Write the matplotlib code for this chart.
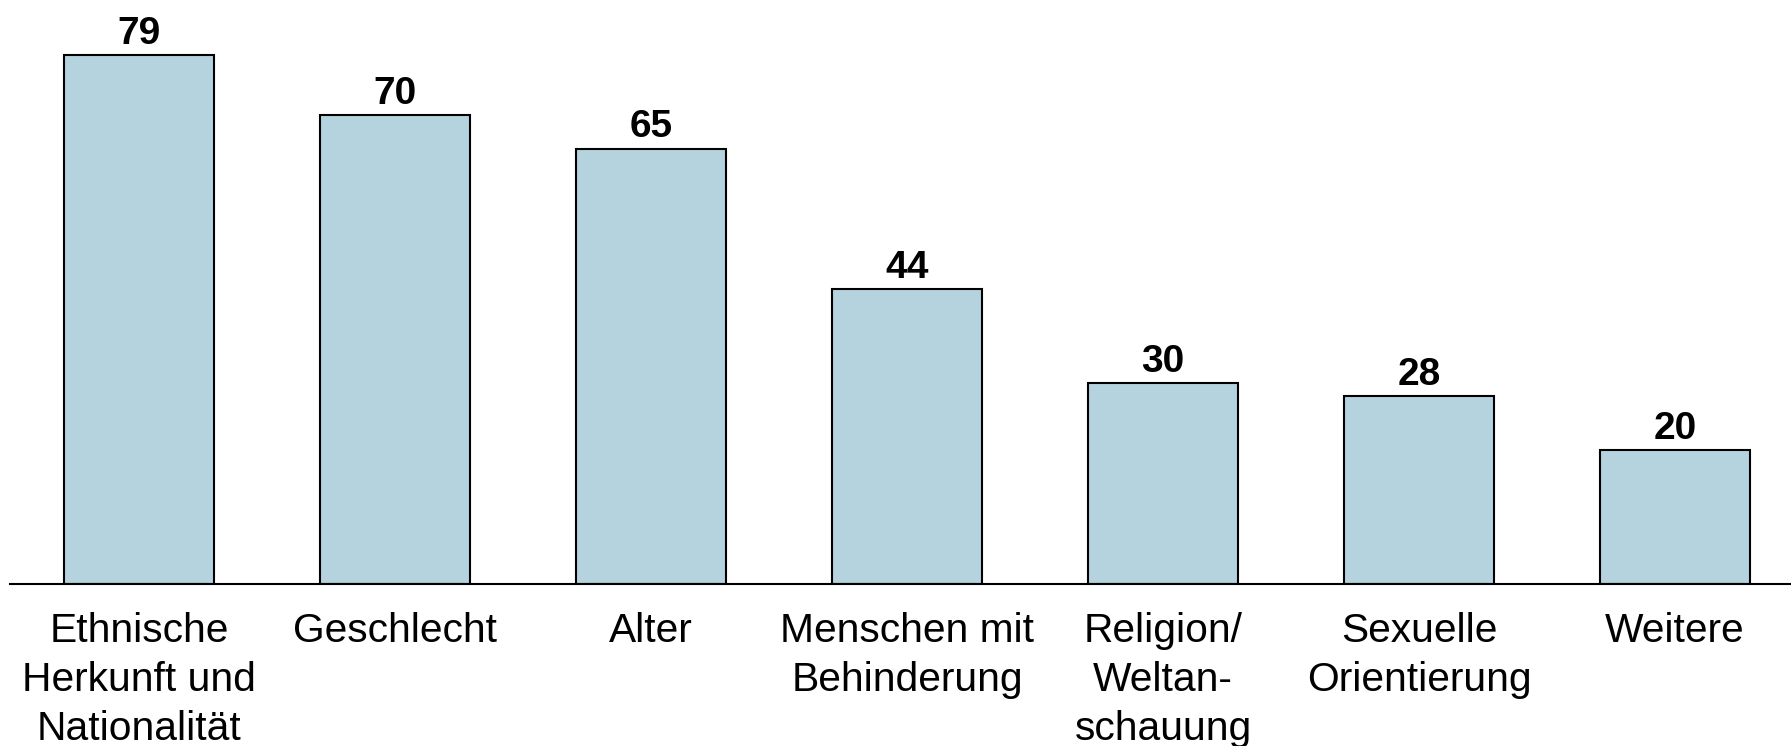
import matplotlib
matplotlib.use("Agg")
import matplotlib.pyplot as plt

categories = ["Ethnische\nHerkunft und\nNationalität", "Geschlecht", "Alter",
              "Menschen mit\nBehinderung", "Religion/\nWeltan-\nschauung",
              "Sexuelle\nOrientierung", "Weitere"]
values = [79, 70, 65, 44, 30, 28, 20]

plt.rcParams['font.family'] = ['Liberation Sans', 'DejaVu Sans']

W, H = 1791, 746
fig = plt.figure(figsize=(W / 100, H / 100), dpi=100)
ax = fig.add_axes([10 / W, 162 / H, 1781 / W, 584 / H])

x = list(range(len(categories)))
ax.bar(x, values, width=0.586, color="#B4D3DE", edgecolor="black", linewidth=1.5, zorder=2)
for xi, v in zip(x, values):
    ax.annotate(str(v), (xi, v), xytext=(0, 8.2), textcoords="offset points",
                ha="center", va="baseline", fontsize=28, fontweight="bold")

ax.set_xlim(-0.504, 6.453)
ax.set_ylim(0, 87.2)
ax.set_xticks(x)
ax.set_xticklabels(categories, fontsize=29.3, linespacing=1.355, va="top")
ax.tick_params(axis="x", length=0, pad=20.5)
ax.set_yticks([])
for s in ["top", "right", "left"]:
    ax.spines[s].set_visible(False)
ax.spines["bottom"].set_linewidth(1.5)
ax.patch.set_alpha(0)

fig.savefig("out.png", dpi=100)
